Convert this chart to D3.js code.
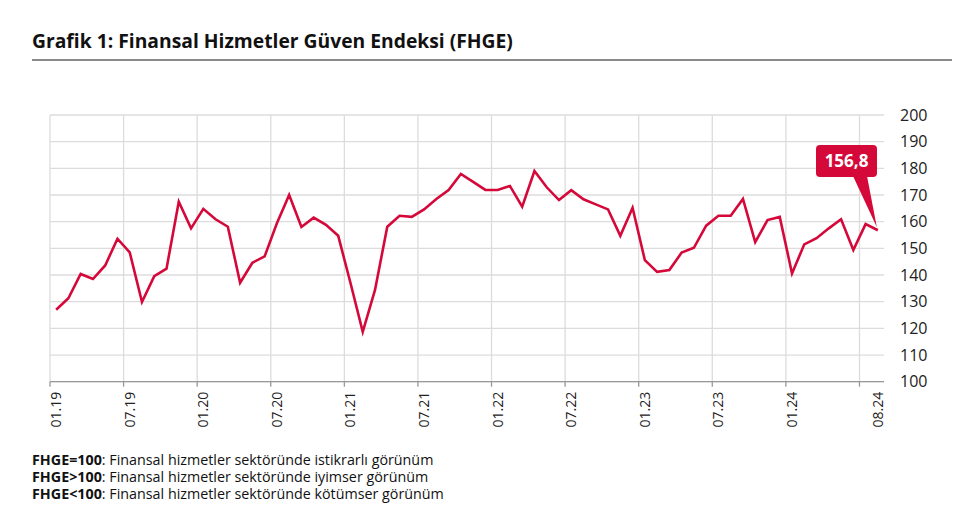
<!DOCTYPE html>
<html><head><meta charset="utf-8">
<script src="https://cdn.jsdelivr.net/npm/d3@7"></script>
<style>
body{margin:0;background:#fff;}
svg{display:block;font-family:"Open Sans",sans-serif;}
</style></head>
<body>
<svg id="c" width="980" height="507"></svg>
<script>
const months = [];
for (let y = 19; y <= 24; y++) for (let m = 1; m <= 12; m++) {
  if (y === 24 && m > 8) break;
  months.push(String(m).padStart(2,"0") + "." + y);
}
const values = [127,131.3,140.4,138.5,143.6,153.6,148.5,129.9,139.6,142.4,167.5,157.5,
  164.8,160.9,158.1,137.1,144.6,147,159.4,170,158,161.5,158.8,154.7,
  137,118.7,134.4,158.1,162.2,161.8,164.6,168.5,171.9,177.9,174.9,171.9,
  171.9,173.4,165.6,179,172.9,168.1,171.8,168.4,166.5,164.6,154.7,165.2,
  145.6,141.2,141.9,148.4,150.2,158.5,162.2,162.2,168.5,152.3,160.6,161.8,
  140.6,151.5,153.8,157.5,160.9,149.4,159.1,156.8];
const xLabels = ["01.19","07.19","01.20","07.20","01.21","07.21","01.22","07.22","01.23","07.23","01.24","08.24"];
const xTickMonths = months.filter((d,i)=> i % 6 === 0);
const yTicks = [100,110,120,130,140,150,160,170,180,190,200];
const title = "Grafik 1: Finansal Hizmetler Güven Endeksi (FHGE)";
const notes = [["FHGE=100",": Finansal hizmetler sektöründe istikrarlı görünüm"],
               ["FHGE>100",": Finansal hizmetler sektöründe iyimser görünüm"],
               ["FHGE<100",": Finansal hizmetler sektöründe kötümser görünüm"]];
const lastLabel = "156,8";

const svg = d3.select("#c");
const red = "#d5083a";
const L = 50, R = 884, T = 115, B = 381.7;
const x = d3.scaleBand().domain(months).range([L, R]);
const y = d3.scaleLinear().domain([100,200]).range([B, T]);
const cx = d => x(d) + x.bandwidth()/2;

// title
svg.append("text").attr("x",32).attr("y",48).attr("font-size",19.3).attr("font-weight",700)
  .attr("fill","#111").text(title);
svg.append("line").attr("x1",32).attr("x2",952).attr("y1",60).attr("y2",60)
  .attr("stroke","#8a8a8a").attr("stroke-width",2);

// horizontal grid
svg.append("g").selectAll("line").data(yTicks).join("line")
  .attr("x1",L).attr("x2",R).attr("y1",d=>y(d)).attr("y2",d=>y(d))
  .attr("stroke","#dcdcdc").attr("stroke-width",1.3);
// vertical grid
svg.append("g").selectAll("line").data(xTickMonths).join("line")
  .attr("x1",d=>x(d)).attr("x2",d=>x(d)).attr("y1",T).attr("y2",B)
  .attr("stroke","#dcdcdc").attr("stroke-width",1.3);

// bottom axis
svg.append("line").attr("x1",L).attr("x2",R).attr("y1",B).attr("y2",B).attr("stroke","#999").attr("stroke-width",1.3);
svg.append("g").selectAll("line").data(xTickMonths).join("line")
  .attr("x1",d=>x(d)).attr("x2",d=>x(d)).attr("y1",B).attr("y2",B+5)
  .attr("stroke","#999").attr("stroke-width",1.3);
svg.append("g").selectAll("text").data(xLabels).join("text")
  .attr("transform",d=>`translate(${cx(d)+5},${B+10}) rotate(-90)`)
  .attr("text-anchor","end").attr("font-size",14).attr("fill","#222").text(d=>d);

// y labels right
svg.append("g").selectAll("text").data(yTicks).join("text")
  .attr("x",900).attr("y",d=>y(d)+5.5).attr("font-size",16).attr("fill","#222").text(d=>d);

// line
const line = d3.line().x((d,i)=>cx(months[i])).y(d=>y(d));
svg.append("path").datum(values).attr("d",line).attr("fill","none")
  .attr("stroke",red).attr("stroke-width",2.6).attr("stroke-linejoin","miter");

// callout
const lx = cx(months[months.length-1]), ly = y(values[values.length-1]);
const bx = 816, by = 145, bw = 61, bh = 32;
svg.append("path").attr("d",`M${bx+37},${by+bh-1} L${lx-1},${ly-3} L${bx+51},${by+bh-1} Z`).attr("fill",red);
svg.append("rect").attr("x",bx).attr("y",by).attr("width",bw).attr("height",bh).attr("rx",4).attr("fill",red);
svg.append("text").attr("x",bx+bw/2).attr("y",by+22).attr("text-anchor","middle")
  .attr("font-size",17).attr("font-weight",700).attr("fill","#fff").text(lastLabel);

// notes
const ng = svg.append("g");
notes.forEach((n,i)=>{
  const t = ng.append("text").attr("x",32).attr("y",464.5+i*17.2).attr("font-size",14.3).attr("fill","#111");
  t.append("tspan").attr("font-weight",700).text(n[0]);
  t.append("tspan").text(n[1]);
});
</script>
</body></html>
